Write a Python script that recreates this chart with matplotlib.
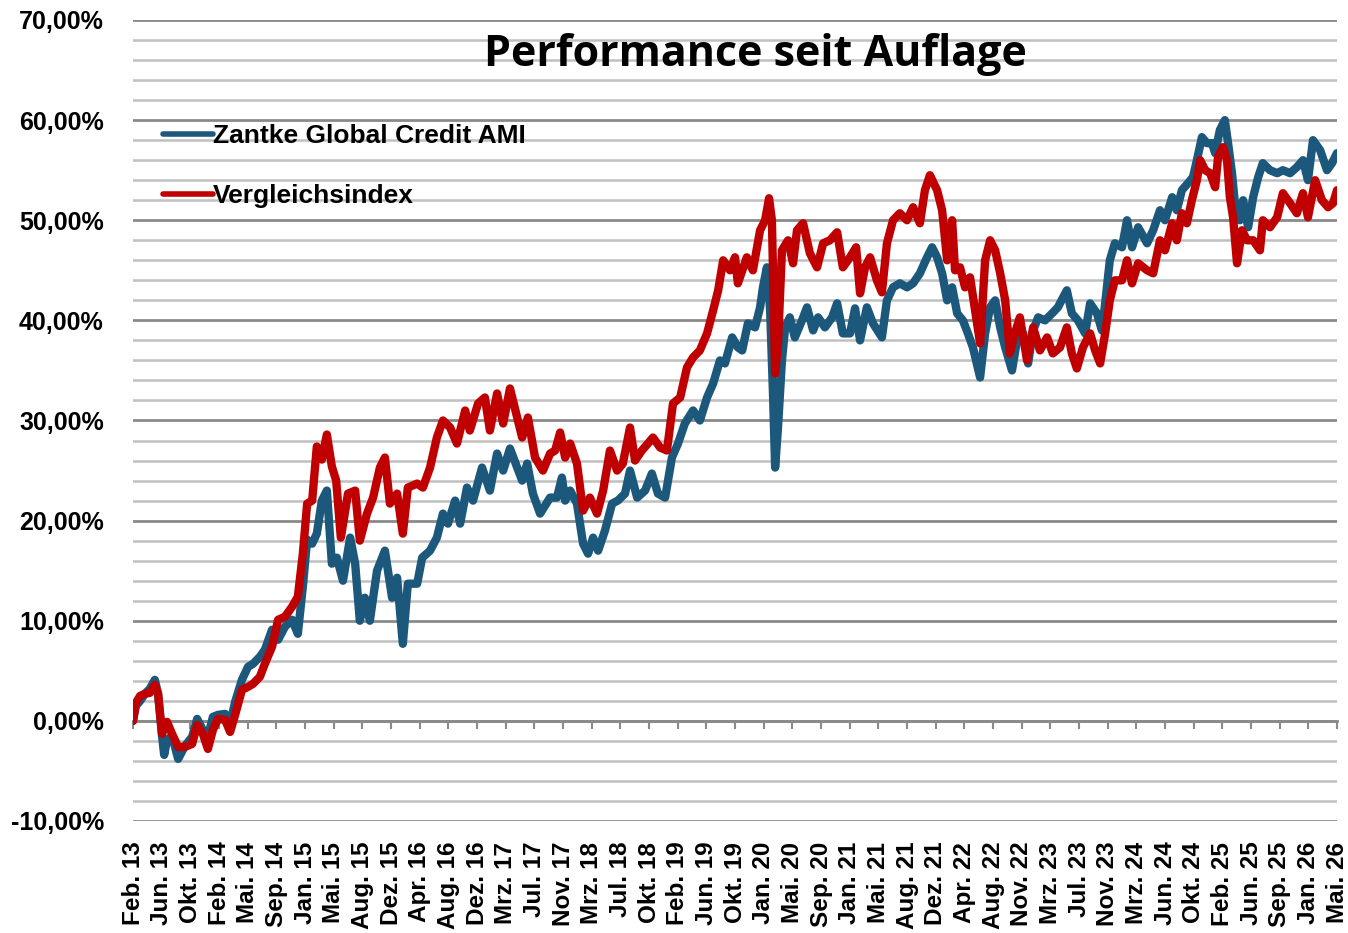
import matplotlib.pyplot as plt
import matplotlib.ticker as mticker

# X-Achse: Handelstage seit Auflage, Beschriftung alle 80 Tage
tage_pro_tick = 80
tick_labels = ["Feb. 13", "Jun. 13", "Okt. 13", "Feb. 14", "Mai. 14", "Sep. 14",
               "Jan. 15", "Mai. 15", "Aug. 15", "Dez. 15", "Apr. 16", "Aug. 16",
               "Dez. 16", "Mrz. 17", "Jul. 17", "Nov. 17", "Mrz. 18", "Jul. 18",
               "Okt. 18", "Feb. 19", "Jun. 19", "Okt. 19", "Jan. 20", "Mai. 20",
               "Sep. 20", "Jan. 21", "Mai. 21", "Aug. 21", "Dez. 21", "Apr. 22",
               "Aug. 22", "Nov. 22", "Mrz. 23", "Jul. 23", "Nov. 23", "Mrz. 24",
               "Jun. 24", "Okt. 24", "Feb. 25", "Jun. 25", "Sep. 25", "Jan. 26",
               "Mai. 26"]

# Zantke Global Credit AMI (Handelstag, Performance in %)
tage_fonds = [0, 8, 20, 33, 47, 61, 70, 81, 87, 95, 109, 126, 145, 165, 179, 195, 209, 223,
              237, 257, 271, 285, 304, 321, 335, 354, 368, 388, 405, 424, 444, 460, 474, 486,
              500, 513, 527, 541, 555, 569, 586, 606, 620, 633, 647, 661, 681, 703, 723, 737,
              753, 767, 793, 807, 829, 848, 865, 879, 899, 913, 932, 949, 974, 996, 1016, 1033,
              1052, 1072, 1086, 1100, 1116, 1136, 1164, 1183, 1197, 1206, 1220, 1239, 1256, 1270,
              1284, 1298, 1317, 1337, 1353, 1373, 1387, 1407, 1429, 1448, 1465, 1485, 1504, 1521,
              1540, 1563, 1582, 1602, 1619, 1638, 1652, 1672, 1688, 1700, 1716, 1736, 1750, 1758,
              1769, 1778, 1786, 1792, 1800, 1811, 1820, 1833, 1847, 1867, 1881, 1898, 1912, 1931,
              1951, 1965, 1981, 2001, 2015, 2029, 2048, 2065, 2090, 2104, 2121, 2140, 2160, 2177,
              2196, 2216, 2230, 2244, 2258, 2272, 2286, 2300, 2316, 2330, 2344, 2364, 2378, 2392,
              2406, 2420, 2434, 2453, 2467, 2484, 2498, 2512, 2526, 2545, 2565, 2581, 2606, 2620,
              2637, 2657, 2671, 2690, 2704, 2713, 2726, 2740, 2760, 2774, 2788, 2805, 2830, 2847,
              2866, 2880, 2900, 2913, 2927, 2944, 2958, 2969, 2983, 2997, 3011, 3020, 3033, 3047,
              3056, 3067, 3075, 3089, 3098, 3112, 3126, 3140, 3153, 3173, 3193, 3209, 3229, 3248,
              3265, 3279, 3293, 3313, 3332, 3346, 3360]
fonds = [0.0, 1.5, 2.0, 2.7, 3.2, 4.1, 2.7, -1.5, -3.4, -1.9, -1.5, -3.8, -2.5, -1.6, 0.2, -0.9,
         -1.6, 0.4, 0.6, 0.7, -0.3, 1.9, 4.1, 5.4, 5.7, 6.4, 7.1, 9.1, 8.1, 9.4, 10.1, 8.7, 13.4,
         18.1, 17.7, 18.7, 22.0, 23.0, 15.7, 16.3, 14.0, 18.3, 15.7, 10.0, 12.3, 10.0, 15.0, 17.0,
         12.3, 14.3, 7.7, 13.7, 13.7, 16.3, 17.0, 18.3, 20.7, 19.7, 22.0, 19.7, 23.3, 22.0, 25.3,
         23.0, 26.7, 25.0, 27.2, 25.3, 24.0, 25.7, 22.7, 20.7, 22.3, 22.3, 24.3, 22.0, 23.0, 21.7,
         17.7, 16.7, 18.3, 17.0, 19.0, 21.7, 22.0, 22.7, 25.0, 22.3, 23.0, 24.7, 22.7, 22.3, 26.3,
         27.7, 29.7, 31.0, 30.0, 32.3, 33.7, 36.0, 35.7, 38.3, 37.3, 37.0, 39.7, 39.3, 41.3, 43.3,
         45.3, 41.0, 32.7, 25.3, 29.3, 36.0, 39.3, 40.3, 38.3, 40.0, 41.3, 39.0, 40.3, 39.3, 40.3,
         41.7, 38.7, 38.7, 41.2, 38.0, 41.3, 39.7, 38.3, 42.0, 43.3, 43.7, 43.3, 43.7, 44.7, 46.3,
         47.3, 46.3, 44.7, 42.0, 43.3, 40.7, 40.0, 38.7, 37.3, 34.3, 38.7, 41.3, 42.0, 39.3, 37.3,
         35.0, 38.0, 38.7, 35.7, 39.0, 40.3, 40.0, 40.7, 41.3, 43.0, 40.7, 40.0, 38.7, 41.7, 40.7,
         39.0, 41.7, 46.0, 47.7, 47.3, 50.0, 47.3, 49.3, 47.7, 49.0, 51.0, 50.0, 52.3, 51.0, 53.0,
         53.7, 54.3, 56.0, 58.3, 57.7, 57.7, 56.7, 59.0, 60.0, 57.7, 54.7, 51.7, 50.0, 52.0, 49.3,
         52.3, 54.3, 55.7, 55.0, 54.7, 55.0, 54.7, 55.3, 56.0, 54.0, 58.0, 57.0, 55.0, 55.7, 56.7]

# Vergleichsindex (Handelstag, Performance in %)
tage_index = [0, 8, 20, 33, 47, 61, 70, 81, 95, 109, 126, 145, 165, 179, 195, 209, 223, 237,
              257, 271, 285, 304, 321, 335, 354, 368, 388, 405, 424, 444, 460, 474, 486, 500,
              513, 527, 541, 555, 567, 580, 600, 620, 633, 653, 670, 689, 703, 717, 737, 753,
              767, 793, 809, 829, 848, 865, 885, 904, 927, 940, 963, 982, 996, 1016, 1033, 1052,
              1072, 1086, 1102, 1122, 1144, 1164, 1178, 1192, 1206, 1220, 1239, 1256, 1275, 1295,
              1312, 1331, 1351, 1367, 1387, 1401, 1420, 1437, 1451, 1471, 1490, 1507, 1527, 1546,
              1563, 1582, 1602, 1619, 1633, 1647, 1666, 1680, 1688, 1713, 1730, 1750, 1764, 1775,
              1783, 1792, 1800, 1811, 1828, 1842, 1853, 1870, 1889, 1909, 1926, 1945, 1965, 1981,
              2001, 2018, 2029, 2043, 2057, 2076, 2090, 2104, 2121, 2140, 2160, 2177, 2196, 2210,
              2224, 2244, 2258, 2272, 2286, 2294, 2308, 2322, 2336, 2350, 2364, 2378, 2392, 2406,
              2420, 2434, 2447, 2461, 2475, 2495, 2512, 2531, 2551, 2567, 2587, 2606, 2620, 2634,
              2651, 2671, 2685, 2699, 2713, 2726, 2740, 2760, 2774, 2788, 2805, 2830, 2847, 2866,
              2880, 2900, 2913, 2927, 2941, 2955, 2969, 2978, 2992, 3006, 3020, 3028, 3042, 3053,
              3061, 3070, 3081, 3095, 3109, 3126, 3145, 3153, 3173, 3193, 3209, 3229, 3248, 3265,
              3279, 3299, 3318, 3335, 3349, 3360]
index_werte = [0.0, 1.8, 2.5, 2.7, 2.8, 3.6, 2.7, -1.3, -0.1, -1.3, -2.6, -2.6, -2.3, -0.4, -1.3,
               -2.8, -0.9, 0.2, 0.1, -1.1, 0.6, 3.1, 3.4, 3.7, 4.4, 5.7, 7.4, 10.1, 10.4, 11.4,
               12.4, 16.7, 21.7, 22.0, 27.4, 26.1, 28.6, 25.4, 24.0, 18.3, 22.7, 23.0, 18.0, 20.7,
               22.3, 25.3, 26.3, 21.7, 22.7, 18.7, 23.3, 23.7, 23.3, 25.3, 28.3, 30.0, 29.3, 27.7,
               31.0, 29.0, 31.7, 32.3, 29.0, 32.7, 29.7, 33.2, 30.3, 28.3, 30.3, 26.3, 25.0, 26.7,
               27.0, 28.8, 26.3, 27.7, 25.7, 21.0, 22.3, 20.7, 23.0, 27.0, 25.0, 25.7, 29.3, 26.0,
               27.0, 27.7, 28.3, 27.3, 27.0, 31.7, 32.3, 35.3, 36.3, 37.0, 38.7, 41.0, 43.0, 46.0,
               45.0, 46.3, 43.7, 46.3, 45.0, 49.0, 50.0, 52.2, 50.0, 34.7, 37.7, 47.0, 48.0, 45.7,
               49.0, 49.7, 46.7, 45.3, 47.7, 48.0, 48.8, 45.3, 46.3, 47.3, 42.7, 45.3, 46.3, 44.0,
               42.8, 47.7, 50.0, 50.7, 50.0, 51.3, 49.7, 53.0, 54.5, 53.0, 51.0, 46.0, 50.0, 45.0,
               45.3, 43.3, 44.3, 41.0, 37.7, 46.0, 48.0, 47.0, 44.7, 42.0, 36.7, 38.7, 40.3, 36.0,
               39.3, 37.0, 38.3, 36.7, 37.3, 39.3, 36.7, 35.2, 37.3, 38.7, 37.0, 35.7, 38.7, 42.0,
               44.0, 44.0, 46.0, 43.7, 45.7, 45.0, 44.7, 48.0, 47.0, 49.7, 48.0, 50.7, 49.7, 52.0,
               54.0, 56.0, 55.0, 54.7, 53.3, 56.3, 57.3, 56.0, 52.3, 50.3, 45.7, 49.0, 48.0, 48.0,
               47.0, 50.0, 49.3, 50.3, 52.7, 51.7, 50.7, 52.7, 50.3, 54.0, 52.0, 51.3, 51.7, 53.0]

plt.rcParams['font.family'] = ['Liberation Sans', 'DejaVu Sans']

fig = plt.figure(figsize=(13.48, 9.33), dpi=100)
ax = fig.add_axes([133 / 1348, 1 - 821 / 933, (1337 - 133) / 1348, (821 - 20) / 933])

ax.plot(tage_fonds, fonds, color='#1B587C', lw=6, solid_joinstyle='round',
        solid_capstyle='round', label='Zantke Global Credit AMI', zorder=3)
ax.plot(tage_index, index_werte, color='#C00000', lw=6, solid_joinstyle='round',
        solid_capstyle='round', label='Vergleichsindex', zorder=4)

ax.set_xlim(0, tage_pro_tick * (len(tick_labels) - 1))
ax.set_ylim(-10, 70)

# Gitterlinien: alle 2 %, kräftiger alle 10 %
ax.yaxis.set_major_locator(mticker.MultipleLocator(10))
ax.yaxis.set_minor_locator(mticker.MultipleLocator(2))
ax.yaxis.set_major_formatter(mticker.FuncFormatter(lambda v, p: f"{v:.2f}%".replace('.', ',')))
ax.grid(True, which='major', axis='y', color='#8A8A8A', lw=2)
ax.grid(True, which='minor', axis='y', color='#C0C0C0', lw=1.8)
ax.set_axisbelow(True)
ax.tick_params(axis='y', which='both', length=0, pad=21, labelsize=18)
for lbl in ax.get_yticklabels():
    lbl.set_fontweight('bold')

for s in ['top', 'right', 'left']:
    ax.spines[s].set_visible(False)
ax.spines['bottom'].set_position(('data', 0))
ax.spines['bottom'].set_color('#8A8A8A')
ax.spines['bottom'].set_linewidth(2)

ax.set_xticks(range(0, tage_pro_tick * len(tick_labels), tage_pro_tick))
ax.set_xticklabels(tick_labels, rotation=90, fontsize=17.5, fontweight='bold')
ax.tick_params(axis='x', direction='out', length=6, width=1.5, color='#8A8A8A', pad=81)

fig.text(755 / 1348, 1 - 66 / 933, 'Performance seit Auflage', ha='center', va='baseline',
         fontsize=31, fontweight='bold', family=['Open Sans', 'DejaVu Sans'])

leg = ax.legend(loc='upper left', bbox_to_anchor=(163 / 1348, 1 - 124 / 933),
                bbox_transform=fig.transFigure, frameon=False, borderpad=0,
                borderaxespad=0, handlelength=1.9, handletextpad=0, labelspacing=1.37,
                prop={'size': 19, 'weight': 'bold'})
for h in leg.get_lines():
    h.set_linewidth(4)

fig.savefig('out.png', dpi=100, facecolor='white')
